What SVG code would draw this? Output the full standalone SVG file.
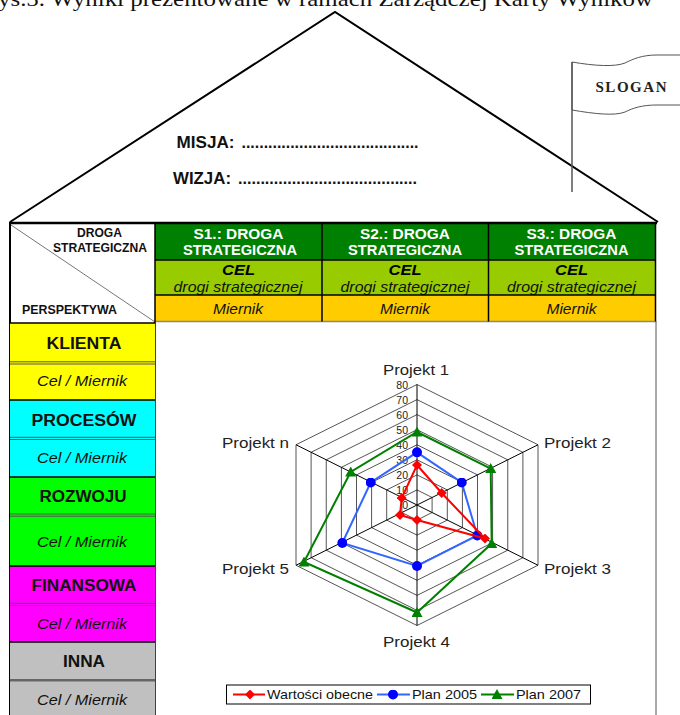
<svg xmlns="http://www.w3.org/2000/svg" width="680" height="715" viewBox="0 0 680 715">
<defs>
<style>
.sans{font-family:"Liberation Sans",Arial,sans-serif}
.serif{font-family:"Liberation Serif","Times New Roman",serif}
.hd{font-family:"Liberation Sans",Arial,sans-serif;font-weight:bold;fill:#fff;font-size:14px;text-anchor:middle}
.cel{font-family:"Liberation Sans",Arial,sans-serif;font-weight:bold;font-style:italic;font-size:14px;text-anchor:middle}
.it{font-family:"Liberation Sans",Arial,sans-serif;font-style:italic;font-size:14px;text-anchor:middle;fill:#111}
.pt{font-family:"Liberation Sans",Arial,sans-serif;font-weight:bold;font-size:16px;text-anchor:middle;fill:#111}
.grid{stroke:#000;stroke-width:1.5;fill:none}
.ring{fill:none;stroke:#555;stroke-width:1}
.spoke{stroke:#000;stroke-width:1}
.ax{font-family:"Liberation Sans",Arial,sans-serif;font-size:15px;fill:#222}
.sc{font-family:"Liberation Sans",Arial,sans-serif;font-size:10.5px;fill:#222;text-anchor:end}
</style>
<marker id="mRed" viewBox="-5 -5 10 10" markerWidth="10" markerHeight="10" markerUnits="userSpaceOnUse"><path d="M0,-5 L5,0 0,5 -5,0Z" fill="#ff0000"/></marker>
<marker id="mBlue" viewBox="-5 -5 10 10" markerWidth="10" markerHeight="10" markerUnits="userSpaceOnUse"><circle r="5" fill="#0000ff"/></marker>
<marker id="mGreen" viewBox="-5 -5 10 10" markerWidth="11" markerHeight="11" markerUnits="userSpaceOnUse"><path d="M0,-5 L5,4 -5,4Z" fill="#008000"/></marker>
</defs>
<rect width="680" height="715" fill="#fff"/>

<g id="caption">
<text class="serif" x="-2" y="6" font-size="22" textLength="655" lengthAdjust="spacingAndGlyphs" fill="#111">ys.5. Wyniki prezentowane w ramach Zarządczej Karty Wyników</text>
</g>

<g id="roof">
<polyline points="10,222 335,12 658,222" fill="none" stroke="#000" stroke-width="2"/>
<text class="sans" x="176.5" y="147.5" font-size="16" font-weight="bold" textLength="58" lengthAdjust="spacingAndGlyphs" fill="#111">MISJA:</text>
<text class="sans" x="241.5" y="147.5" font-size="16" font-weight="bold" textLength="177" lengthAdjust="spacingAndGlyphs" fill="#111">........................................</text>
<text class="sans" x="173" y="183.5" font-size="16" font-weight="bold" textLength="58" lengthAdjust="spacingAndGlyphs" fill="#111">WIZJA:</text>
<text class="sans" x="238" y="183.5" font-size="16" font-weight="bold" textLength="179" lengthAdjust="spacingAndGlyphs" fill="#111">........................................</text>
</g>

<g id="flag">
<path d="M572,62 C595,66 615,67 625,63 C633,59 642,55 657,55 L681,55 L681,105 L657,105 C642,105 633,108 625,112 C615,116 595,114 572,110 Z" fill="#fff" stroke="#555" stroke-width="1"/>
<line x1="572" y1="62" x2="572" y2="192" stroke="#555" stroke-width="1.5"/>
<text class="serif" x="631" y="92" font-size="15" font-weight="bold" text-anchor="middle" textLength="71" lengthAdjust="spacing" fill="#222">SLOGAN</text>
</g>

<g id="header">
<rect x="155" y="224" width="501" height="36" fill="#008000"/>
<rect x="155" y="260" width="501" height="35" fill="#99cc00"/>
<text class="cel" x="238.5" y="275" textLength="33" lengthAdjust="spacingAndGlyphs">CEL</text>
<text class="cel" x="405" y="275" textLength="33" lengthAdjust="spacingAndGlyphs">CEL</text>
<text class="cel" x="571.5" y="275" textLength="33" lengthAdjust="spacingAndGlyphs">CEL</text>
<text class="it" x="238" y="291.5" textLength="129" lengthAdjust="spacingAndGlyphs">drogi strategicznej</text>
<text class="it" x="405" y="291.5" textLength="129" lengthAdjust="spacingAndGlyphs">drogi strategicznej</text>
<text class="it" x="571.5" y="291.5" textLength="129" lengthAdjust="spacingAndGlyphs">drogi strategicznej</text>
<rect x="155" y="295" width="501" height="26.5" fill="#ffcc00"/>
<text class="it" x="238" y="314" textLength="50" lengthAdjust="spacingAndGlyphs">Miernik</text>
<text class="it" x="405" y="314" textLength="50" lengthAdjust="spacingAndGlyphs">Miernik</text>
<text class="it" x="571.5" y="314" textLength="50" lengthAdjust="spacingAndGlyphs">Miernik</text>
<text class="hd" x="238.5" y="238.5" textLength="90" lengthAdjust="spacingAndGlyphs">S1.: DROGA</text>
<text class="hd" x="240" y="255" textLength="114" lengthAdjust="spacingAndGlyphs">STRATEGICZNA</text>
<text class="hd" x="405" y="238.5" textLength="90" lengthAdjust="spacingAndGlyphs">S2.: DROGA</text>
<text class="hd" x="405" y="255" textLength="114" lengthAdjust="spacingAndGlyphs">STRATEGICZNA</text>
<text class="hd" x="571.5" y="238.5" textLength="90" lengthAdjust="spacingAndGlyphs">S3.: DROGA</text>
<text class="hd" x="571.5" y="255" textLength="114" lengthAdjust="spacingAndGlyphs">STRATEGICZNA</text>
<line x1="155" y1="260" x2="656" y2="260" class="grid"/>
<line x1="155" y1="295" x2="656" y2="295" class="grid"/>
<line x1="155" y1="321.5" x2="656" y2="321.5" stroke="#888" stroke-width="1.5"/>
<line x1="322" y1="224" x2="322" y2="321.5" class="grid"/>
<line x1="488.5" y1="224" x2="488.5" y2="321.5" class="grid"/>
<line x1="655.5" y1="224" x2="655.5" y2="321.5" class="grid"/>
<line x1="11" y1="225" x2="155" y2="322" stroke="#777" stroke-width="1"/>
<text class="sans" x="99.5" y="237" font-size="12" font-weight="bold" text-anchor="middle" textLength="45" lengthAdjust="spacingAndGlyphs" fill="#111">DROGA</text>
<text class="sans" x="100" y="251.5" font-size="12" font-weight="bold" text-anchor="middle" textLength="94" lengthAdjust="spacingAndGlyphs" fill="#111">STRATEGICZNA</text>
<text class="sans" x="69.5" y="314" font-size="12" font-weight="bold" text-anchor="middle" textLength="95" lengthAdjust="spacingAndGlyphs" fill="#111">PERSPEKTYWA</text>
<line x1="155" y1="224" x2="155" y2="715" class="grid"/>
</g>

<g id="frame">
<line x1="9" y1="223" x2="657" y2="223" stroke="#000" stroke-width="2.5"/>
<line x1="10" y1="222" x2="10" y2="715" stroke="#000" stroke-width="2"/>
<line x1="656" y1="321" x2="656" y2="715" stroke="#555" stroke-width="1"/>
</g>

<g id="perspectives">
<rect x="10" y="323" width="145" height="77" fill="#ffff00"/>
<rect x="10" y="400" width="145" height="77" fill="#00ffff"/>
<rect x="10" y="477" width="145" height="89" fill="#00ff00"/>
<rect x="10" y="566" width="145" height="76" fill="#ff00ff"/>
<rect x="10" y="642" width="145" height="73" fill="#c0c0c0"/>
<g stroke="#555" stroke-width="1">
<line x1="10" y1="361.8" x2="155" y2="361.8"/><line x1="10" y1="364" x2="155" y2="364"/>
<line x1="10" y1="437.3" x2="155" y2="437.3"/><line x1="10" y1="439.5" x2="155" y2="439.5"/>
<line x1="10" y1="514" x2="155" y2="514"/><line x1="10" y1="516.2" x2="155" y2="516.2"/>
<line x1="10" y1="603.3" x2="155" y2="603.3"/><line x1="10" y1="605.5" x2="155" y2="605.5"/>
</g>
<line x1="10" y1="680.3" x2="155" y2="680.3" stroke="#666" stroke-width="2.5"/>
<g class="grid">
<line x1="10" y1="323" x2="155" y2="323"/>
<line x1="10" y1="400" x2="155" y2="400"/>
<line x1="10" y1="477" x2="155" y2="477"/>
<line x1="10" y1="566" x2="155" y2="566"/>
<line x1="10" y1="642" x2="155" y2="642"/>
</g>
<text class="pt" x="84" y="349" textLength="75" lengthAdjust="spacingAndGlyphs">KLIENTA</text>
<text class="it" x="82" y="386" textLength="90" lengthAdjust="spacingAndGlyphs">Cel / Miernik</text>
<text class="pt" x="84" y="426" textLength="105" lengthAdjust="spacingAndGlyphs">PROCESÓW</text>
<text class="it" x="82" y="462.5" textLength="90" lengthAdjust="spacingAndGlyphs">Cel / Miernik</text>
<text class="pt" x="83" y="501.5" textLength="87" lengthAdjust="spacingAndGlyphs">ROZWOJU</text>
<text class="it" x="82" y="546.5" textLength="90" lengthAdjust="spacingAndGlyphs">Cel / Miernik</text>
<text class="pt" x="84" y="591" textLength="105" lengthAdjust="spacingAndGlyphs">FINANSOWA</text>
<text class="it" x="82" y="628.5" textLength="90" lengthAdjust="spacingAndGlyphs">Cel / Miernik</text>
<text class="pt" x="84" y="666.5" textLength="42" lengthAdjust="spacingAndGlyphs">INNA</text>
<text class="it" x="82" y="705" textLength="90" lengthAdjust="spacingAndGlyphs">Cel / Miernik</text>
</g>

<g id="radar">
<polygon class="ring" points="417,489.9 432.1,497.5 432.1,512.5 417,520.1 401.9,512.5 401.9,497.5"/>
<polygon class="ring" points="417,474.9 447.3,489.9 447.3,520.1 417,535.1 386.7,520.1 386.7,489.9"/>
<polygon class="ring" points="417,459.8 462.4,482.4 462.4,527.6 417,550.2 371.6,527.6 371.6,482.4"/>
<polygon class="ring" points="417,444.75 477.5,474.9 477.5,535.1 417,565.25 356.5,535.1 356.5,474.9"/>
<polygon class="ring" points="417,429.7 492.6,467.3 492.6,542.7 417,580.3 341.4,542.7 341.4,467.3"/>
<polygon class="ring" points="417,414.6 507.75,459.8 507.75,550.2 417,595.4 326.25,550.2 326.25,459.8"/>
<polygon class="ring" points="417,399.6 522.9,452.3 522.9,557.7 417,610.4 311.1,557.7 311.1,452.3"/>
<polygon class="ring" points="417,384.5 538,444.75 538,565.25 417,625.5 296,565.25 296,444.75" stroke="#222"/>
<g class="spoke">
<line x1="417" y1="505" x2="417" y2="384.5"/>
<line x1="417" y1="505" x2="538" y2="444.75"/>
<line x1="417" y1="505" x2="538" y2="565.25"/>
<line x1="417" y1="505" x2="417" y2="625.5"/>
<line x1="417" y1="505" x2="296" y2="565.25"/>
<line x1="417" y1="505" x2="296" y2="444.75"/>
</g>
<g>
<text class="sc" x="408" y="388.5">80</text>
<text class="sc" x="408" y="403.5">70</text>
<text class="sc" x="408" y="418.5">60</text>
<text class="sc" x="408" y="433.5">50</text>
<text class="sc" x="408" y="448.5">40</text>
<text class="sc" x="408" y="463.5">30</text>
<text class="sc" x="408" y="478.5">20</text>
<text class="sc" x="408" y="493.5">10</text>
<text class="sc" x="408" y="508.5">0</text>
</g>
<polygon points="417,432 490.7,468.5 491.7,543.5 417,612.5 304,562 350.7,472" fill="none" stroke="#008000" stroke-width="2" marker-start="url(#mGreen)" marker-mid="url(#mGreen)"/>
<polygon points="417,452.3 461.7,482.5 477.3,535.5 417,566 342.3,543 370.7,482.5" fill="none" stroke="#3366ff" stroke-width="2" marker-start="url(#mBlue)" marker-mid="url(#mBlue)"/>
<polygon points="417,465 441.7,493 485,538.5 417,520 400,515 401.7,498" fill="none" stroke="#ff0000" stroke-width="2" marker-start="url(#mRed)" marker-mid="url(#mRed)"/>
<text class="ax" x="416" y="375" text-anchor="middle" textLength="66" lengthAdjust="spacingAndGlyphs">Projekt 1</text>
<text class="ax" x="544" y="448" textLength="67" lengthAdjust="spacingAndGlyphs">Projekt 2</text>
<text class="ax" x="544" y="574" textLength="67" lengthAdjust="spacingAndGlyphs">Projekt 3</text>
<text class="ax" x="383" y="646.5" textLength="67" lengthAdjust="spacingAndGlyphs">Projekt 4</text>
<text class="ax" x="222" y="574" textLength="67" lengthAdjust="spacingAndGlyphs">Projekt 5</text>
<text class="ax" x="222" y="448" textLength="67" lengthAdjust="spacingAndGlyphs">Projekt n</text>
</g>

<g id="legend">
<rect x="226.5" y="685" width="364" height="19" fill="#fff" stroke="#000" stroke-width="1"/>
<polyline points="233,694.5 250,694.5 265,694.5" fill="none" stroke="#ff0000" stroke-width="2" marker-mid="url(#mRed)"/>
<text class="sans" x="267" y="699" font-size="13.5" textLength="106" lengthAdjust="spacingAndGlyphs" fill="#111">Wartości obecne</text>
<polyline points="377,694.5 393,694.5 410,694.5" fill="none" stroke="#3366ff" stroke-width="2" marker-mid="url(#mBlue)"/>
<text class="sans" x="412" y="699" font-size="13.5" textLength="65" lengthAdjust="spacingAndGlyphs" fill="#111">Plan 2005</text>
<polyline points="481,694.5 497,694.5 514,694.5" fill="none" stroke="#008000" stroke-width="2" marker-mid="url(#mGreen)"/>
<text class="sans" x="516" y="699" font-size="13.5" textLength="65" lengthAdjust="spacingAndGlyphs" fill="#111">Plan 2007</text>
</g>
</svg>
